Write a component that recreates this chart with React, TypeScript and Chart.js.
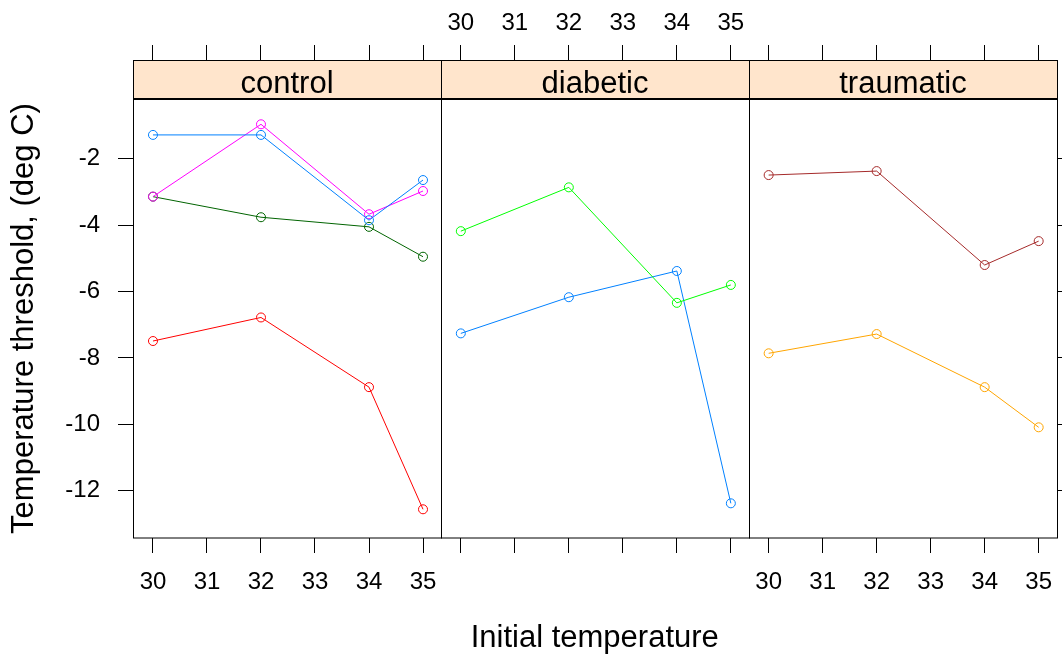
import React, { useEffect, useRef } from 'react';
import { Chart, registerables } from 'chart.js';

Chart.register(...registerables);

// ---------- data ----------
const panelNames = ['control', 'diabetic', 'traumatic'];
const initialTemps = [30, 32, 34, 35];
const xTickValues = [30, 31, 32, 33, 34, 35];
const yTickValues = [-2, -4, -6, -8, -10, -12];

const controlBlue = [-1.28, -1.28, -3.85, -2.64];
const controlMagenta = [-3.14, -0.96, -3.67, -2.97];
const controlDarkGreen = [-3.14, -3.76, -4.05, -4.95];
const controlRed = [-7.49, -6.78, -8.88, -12.56];
const diabeticGreen = [-4.18, -2.86, -6.34, -5.8];
const diabeticBlue = [-7.26, -6.17, -5.38, -12.38];
const traumaticBrown = [-2.49, -2.37, -5.2, -4.48];
const traumaticOrange = [-7.86, -7.28, -8.88, -10.09];

const seriesValues = [
  controlBlue, controlMagenta, controlDarkGreen, controlRed,
  diabeticGreen, diabeticBlue,
  traumaticBrown, traumaticOrange,
];
const seriesPanel = [0, 0, 0, 0, 1, 1, 2, 2];
const seriesColors = [
  '#0080ff', '#ff00ff', '#006400', '#ff0000',
  '#00ff00', '#0080ff',
  '#a52a2a', '#ffa500',
];

const xTitle = 'Initial temperature';
const yTitle = 'Temperature threshold, (deg C)';

// ---------- layout / style ----------
const FONT = "'Liberation Sans', Arial, Helvetica, sans-serif";
const TICK_SIZE = 24;
const TITLE_SIZE = 31;
const X_MIN = 29.63;
const X_MAX = 35.33;
const Y_MIN = -13.425;
const Y_MAX = -0.198;
const STRIP_TOP = 60;

const stripPlugin = {
  id: 'latticeStrips',
  afterDraw(chart: any) {
    const ctx = chart.ctx;
    const { top, bottom } = chart.chartArea;
    panelNames.forEach((name, i) => {
      const sc = chart.scales['x' + i];
      const l = Math.round(sc.left);
      const r = Math.round(sc.right);
      const t = Math.round(top);
      const b = Math.round(bottom);
      ctx.save();
      ctx.fillStyle = '#ffe5cc';
      ctx.fillRect(l, STRIP_TOP, r - l, t - STRIP_TOP);
      ctx.strokeStyle = '#000';
      ctx.lineWidth = 1;
      ctx.strokeRect(l + 0.5, STRIP_TOP + 0.5, r - l, t - STRIP_TOP);
      ctx.strokeRect(l + 0.5, t - 0.5, r - l, b - t + 0.5);
      ctx.fillStyle = '#000';
      ctx.font = `${TITLE_SIZE}px ${FONT}`;
      ctx.textAlign = 'center';
      ctx.textBaseline = 'alphabetic';
      ctx.fillText(name, (l + r) / 2, t - 6.5);
      ctx.restore();
    });
  },
};

function zeroPad(s: any) {
  s.paddingLeft = 0;
  s.paddingRight = 0;
  s.paddingTop = 0;
  s.paddingBottom = 0;
}

function xAxis(i: number, pos: 'top' | 'bottom') {
  const isTop = pos === 'top';
  const showLabels = isTop ? i === 1 : i !== 1;
  return {
    type: 'linear',
    position: pos,
    stack: pos,
    stackWeight: 1,
    min: X_MIN,
    max: X_MAX,
    afterBuildTicks: (s: any) => {
      s.ticks = xTickValues.map((v) => ({ value: v }));
    },
    afterFit: (s: any) => {
      s.height = isTop ? 99 : 120;
      zeroPad(s);
    },
    ticks: {
      display: showLabels,
      font: { family: FONT, size: TICK_SIZE },
      color: '#000',
      padding: isTop ? 7.5 : 14.5,
      autoSkip: false,
      maxRotation: 0,
      minRotation: 0,
      includeBounds: false,
    },
    grid: {
      drawOnChartArea: false,
      drawTicks: true,
      tickLength: isTop ? 54 : 15,
      color: '#000',
      lineWidth: 1,
    },
    border: { display: false },
    title: !isTop && i === 1
      ? {
          display: true,
          text: xTitle,
          color: '#000',
          font: { family: FONT, size: TITLE_SIZE },
          padding: { top: 0, bottom: 1 },
        }
      : { display: false },
  };
}

export default function App() {
  const canvasRef = useRef<HTMLCanvasElement | null>(null);

  useEffect(() => {
    if (!canvasRef.current) return;
    const scales: any = {};
    [0, 1, 2].forEach((i) => {
      scales['x' + i] = xAxis(i, 'bottom');
    });
    [0, 1, 2].forEach((i) => {
      scales['xt' + i] = xAxis(i, 'top');
    });
    scales.y = {
      type: 'linear',
      position: 'left',
      min: Y_MIN,
      max: Y_MAX,
      afterBuildTicks: (s: any) => {
        s.ticks = yTickValues.map((v) => ({ value: v }));
      },
      afterFit: (s: any) => {
        s.width = 133;
        zeroPad(s);
      },
      ticks: {
        font: { family: FONT, size: TICK_SIZE },
        color: '#000',
        padding: 18,
        autoSkip: false,
        includeBounds: false,
      },
      grid: { drawOnChartArea: false, tickLength: 15, color: '#000', lineWidth: 1 },
      border: { display: false },
      title: {
        display: true,
        text: yTitle,
        color: '#000',
        font: { family: FONT, size: TITLE_SIZE },
        padding: { top: 6, bottom: 0 },
      },
    };
    scales.yr = {
      type: 'linear',
      position: 'right',
      min: Y_MIN,
      max: Y_MAX,
      afterBuildTicks: (s: any) => {
        s.ticks = yTickValues.map((v) => ({ value: v }));
      },
      afterFit: (s: any) => {
        s.width = 5;
        zeroPad(s);
      },
      ticks: { display: false, includeBounds: false },
      grid: { drawOnChartArea: false, tickLength: 15, color: '#000', lineWidth: 1 },
      border: { display: false },
    };

    const datasets = seriesValues.map((vals, k) => ({
      label: `${panelNames[seriesPanel[k]]} ${k + 1}`,
      data: initialTemps.map((x, j) => ({ x, y: vals[j] })),
      xAxisID: 'x' + seriesPanel[k],
      yAxisID: 'y',
      borderColor: seriesColors[k],
      backgroundColor: 'rgba(0,0,0,0)',
      pointBorderColor: seriesColors[k],
      pointBackgroundColor: 'rgba(0,0,0,0)',
      pointRadius: 4.5,
      pointBorderWidth: 1,
      borderWidth: 1,
      tension: 0,
      clip: false,
    }));

    const chart = new Chart(canvasRef.current, {
      type: 'line',
      data: { datasets } as any,
      options: {
        responsive: false,
        maintainAspectRatio: false,
        animation: false,
        events: [],
        layout: { padding: 0 },
        plugins: {
          legend: { display: false },
          title: { display: false },
          tooltip: { enabled: false },
        },
        scales,
      } as any,
      plugins: [stripPlugin],
    });
    return () => chart.destroy();
  }, []);

  return (
    <div style={{ position: 'absolute', left: 0, top: 0, width: 1062, height: 658, background: '#fff' }}>
      <canvas ref={canvasRef} width={1062} height={658} style={{ display: 'block' }} />
    </div>
  );
}
